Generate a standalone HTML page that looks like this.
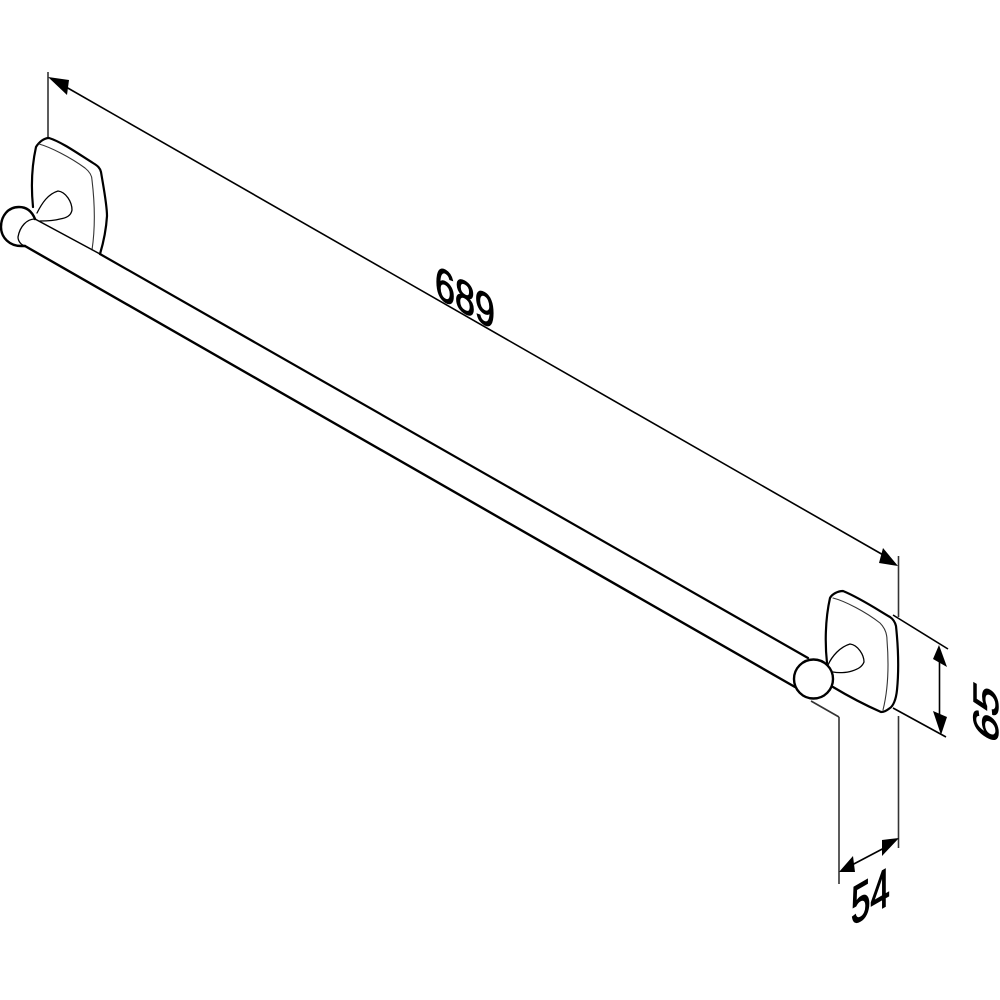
<!DOCTYPE html>
<html>
<head>
<meta charset="utf-8">
<style>
html,body{margin:0;padding:0;background:#fff}
svg{display:block}
text{font-family:"Liberation Sans",sans-serif;font-size:52px;fill:#000;stroke:#000;stroke-width:1.300px}
</style>
</head>
<body>
<svg width="1000" height="1000" viewBox="0 0 1000 1000" xmlns="http://www.w3.org/2000/svg">
<rect width="1000" height="1000" fill="#fff"/>

<!-- dimension extension lines -->
<g fill="none" stroke="#333" stroke-width="1.600">
  <path d="M48 72V138"/>
  <path d="M898.500 556V617"/>
  <path d="M898.500 716V848"/>
  <path d="M839 717V884"/>
  <path d="M811 701L839 717"/>
</g>
<g fill="none" stroke="#000" stroke-width="1.600">
  <path d="M66 87L885 556"/>
  <path d="M893 615L948 649"/>
  <path d="M893 708L946 737"/>
  <path d="M939.500 655V725"/>
  <path d="M850 866L888 846"/>
</g>

<!-- arrowheads -->
<g fill="#000">
  <path d="M48 77L69 80L67 95Z"/>
  <path d="M898 566L883 548L879 563Z"/>
  <path d="M939 645L933 659L947 667Z"/>
  <path d="M941 735L933 711L947 717Z"/>
  <path d="M839 872L853 856L855 872Z"/>
  <path d="M899 838L882 840L882 856Z"/>
</g>

<!-- left bracket -->
<g fill="none" stroke="#000" stroke-linecap="round" stroke-linejoin="round">
  <path stroke-width="2.200" d="M33 207C31 187 32 165 36 147C39 142 44 138 49 138C62 142 80 155 93 163C98 166 100 168 101 172C104 190 107 205 107 216C106 232 103 244 100 254"/>
  <path stroke-width="1.100" stroke="#333" d="M39 144C50 147 70 157 85 168C90 172 92 176 92 180C95 205 95 230 92 250"/>
  <path stroke-width="1.300" d="M37 213C42 203 48 194 58 191C66 192 72 202 72 210C71 216 66 218 60 219C53 221 46 221 40 221"/>
  <path stroke-width="2.400" d="M35 219C31 209 24 207 19 207C8 207 1 216 1 227C1 238 10 246 21 246H25"/>
  <path stroke-width="1.300" d="M35 219C27 219 20 226 18 237C18 241 21 245 25 246"/>
</g>

<!-- tube -->
<g fill="none" stroke="#000" stroke-linecap="round">
  <path stroke-width="1.500" d="M35 219L100 254"/>
  <path stroke-width="2.200" d="M100 254L808 658"/>
  <path stroke-width="2.400" d="M25 246L795 687"/>
</g>

<!-- right bracket -->
<g fill="none" stroke="#000" stroke-linecap="round" stroke-linejoin="round">
  <path stroke-width="2.200" d="M827 663C825 645 825 620 830 598C832 594 838 591 843 591C860 598 878 610 890 617C893 619 895 622 896 626C898 645 899 670 897 690C896 700 893 706 890 708C886 711 884 712 881 712C865 705 848 696 833 687"/>
  <path stroke-width="1.100" stroke="#333" d="M833 598C845 601 866 612 880 623C885 628 887 633 887 640C889 665 888 690 883 710"/>
  <path stroke-width="1.300" d="M828 665C832 656 840 647 850 644C858 645 864 655 864 662C862 667 858 669 852 671C846 673 838 673 833 672"/>
  <circle cx="813.500" cy="679" r="19.500" fill="#fff" stroke-width="2.400"/>
</g>

<!-- labels -->
<text transform="matrix(.69,.395,0,.88,435,296)">689</text>
<text transform="matrix(0,-.92,.68,.39,998,746)">65</text>
<text transform="matrix(.67,-.385,0,1.040,851,926)">54</text>
</svg>
</body>
</html>
